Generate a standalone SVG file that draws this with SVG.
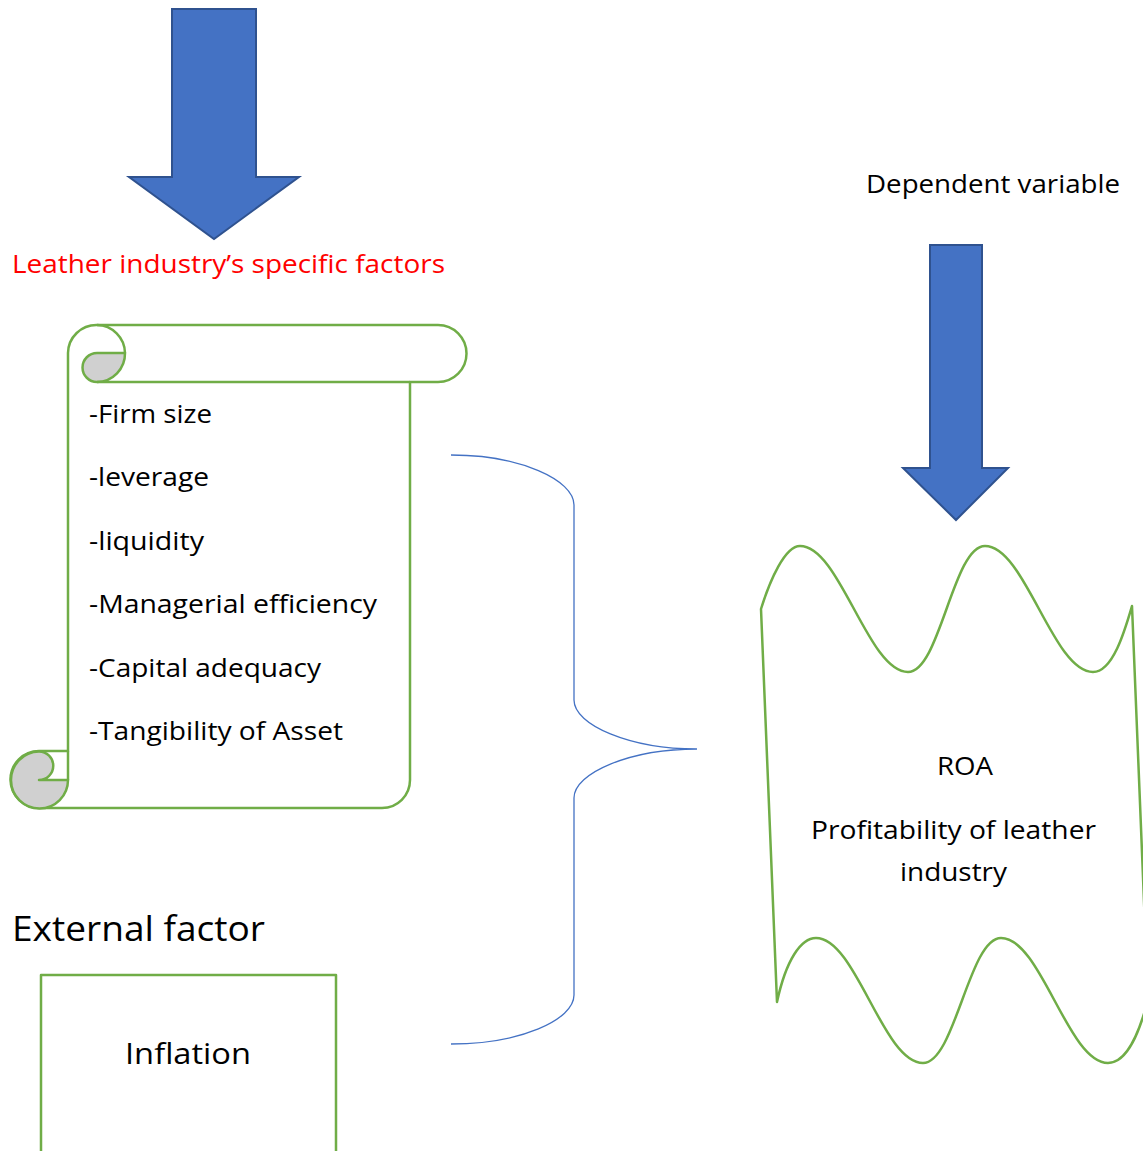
<svg xmlns="http://www.w3.org/2000/svg" width="1143" height="1151" viewBox="0 0 1143 1151">
<style>
.g{fill:none;stroke:#70AD47;stroke-width:2.5;stroke-linejoin:round}
.gf{fill:#D0D0D0;stroke:#70AD47;stroke-width:2.5;stroke-linejoin:round}
.w{fill:#FFFFFF;stroke:#70AD47;stroke-width:2.5;stroke-linejoin:round}
.arr{fill:#4472C4;stroke:#2F528F;stroke-width:2}
.t{font-family:'Open Sans','Liberation Sans',Arial,sans-serif;fill:#000}
</style>
<rect width="1143" height="1151" fill="#fff"/>
<g id="arrow-left">
<polygon class="arr" points="172,9 256,9 256,177 299,177 214,239 129,177 172,177"/>
</g>
<g id="label-specific">
<text class="t" x="12" y="273" font-size="25" style="fill:#FF0000" textLength="433" lengthAdjust="spacingAndGlyphs">Leather industry’s specific factors</text>
</g>
<g id="label-dependent">
<text class="t" x="866" y="193" font-size="25" textLength="254" lengthAdjust="spacingAndGlyphs">Dependent variable</text>
</g>
<g id="arrow-right">
<polygon class="arr" points="930,245 982,245 982,468 1008,468 956,520 903,468 930,468"/>
</g>
<g id="scroll">
<path class="w" d="M68,353 A28.5,28.5 0 0 1 97,325 L438,325 A28.5,28.5 0 0 1 438,382 L410,382 L410,780 A28,28 0 0 1 382,808 L39,808 A28.5,28.5 0 0 1 39,751 L68,751 Z"/>
<path class="gf" d="M97,353 L125,353 A28.5,28.5 0 0 1 97,382 A14.25,14.25 0 0 1 97,353 Z"/>
<path class="g" d="M97,325 A28.5,28.5 0 0 1 125,353"/>
<line class="g" x1="97" y1="382" x2="410" y2="382"/>
<path class="gf" d="M39,780 L68,780 A28.5,28.5 0 1 1 39,751.5 A14.25,14.25 0 0 1 39,780 Z"/>
<line class="g" x1="68" y1="751" x2="68" y2="780"/>
<g class="t" font-size="25">
<text x="89" y="423" textLength="123" lengthAdjust="spacingAndGlyphs">-Firm size</text>
<text x="89" y="486" textLength="120" lengthAdjust="spacingAndGlyphs">-leverage</text>
<text x="89" y="550" textLength="115" lengthAdjust="spacingAndGlyphs">-liquidity</text>
<text x="89" y="613" textLength="288" lengthAdjust="spacingAndGlyphs">-Managerial efficiency</text>
<text x="89" y="677" textLength="232" lengthAdjust="spacingAndGlyphs">-Capital adequacy</text>
<text x="89" y="740" textLength="254" lengthAdjust="spacingAndGlyphs">-Tangibility of Asset</text>
</g>
</g>
<g id="label-external">
<text class="t" x="12" y="941" font-size="35" textLength="253" lengthAdjust="spacingAndGlyphs">External factor</text>
</g>
<g id="inflation">
<rect class="w" x="41" y="975" width="295" height="190"/>
<text class="t" x="125" y="1064" font-size="30" textLength="126" lengthAdjust="spacingAndGlyphs">Inflation</text>
</g>
<g id="roa">
<path class="w" d="M761,609 C770,580 785,546 800,546 C840,546 868,672 908,672 C940,672 953,546 985,546 C1025,546 1053,672 1093,672 C1113,672 1125,630 1132,606 L1148,1000 C1140,1030 1128,1063 1108,1063 C1068,1063 1041,938 1001,938 C969,938 955,1063 923,1063 C883,1063 856,938 816,938 C801,938 786,960 777,1002 Z"/>
<g class="t" font-size="25">
<text x="937" y="775" textLength="56" lengthAdjust="spacingAndGlyphs">ROA</text>
<text x="811" y="839" textLength="285" lengthAdjust="spacingAndGlyphs">Profitability of leather</text>
<text x="900" y="881" textLength="107" lengthAdjust="spacingAndGlyphs">industry</text>
</g>
</g>
<g id="connectors">
<path d="M451,455 C520,455 574,480 574,505 L574,700 C574,725 630,749 697,749 C630,749 574,773 574,798 L574,995 C574,1020 520,1044 451,1044" fill="none" stroke="#4472C4" stroke-width="1.3"/>
</g>
</svg>
